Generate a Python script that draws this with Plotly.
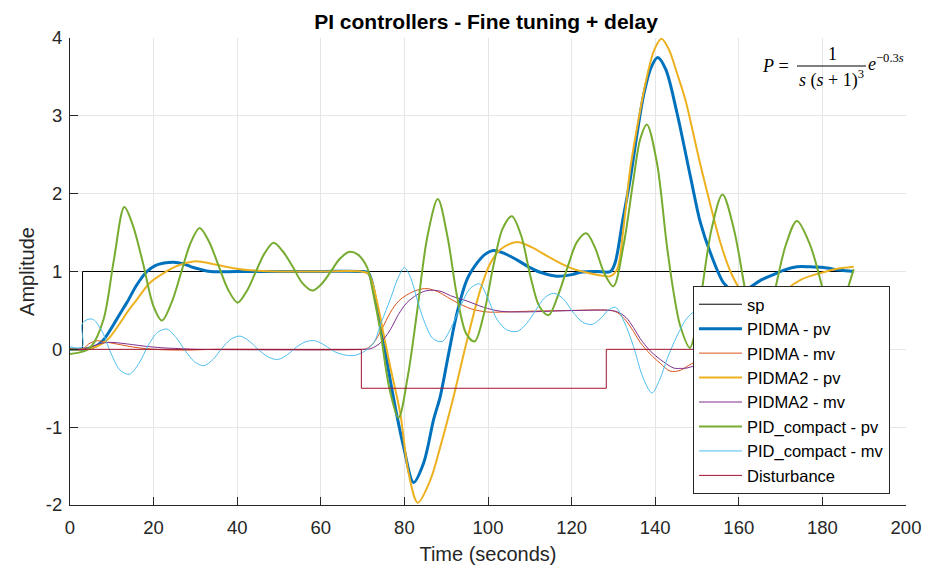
import plotly.graph_objects as go

# ---------------- data ----------------
t_sp = [0, 3, 3, 187.5]
sp = [0, 0, 1, 1]

t_pidma_pv = [0, 3, 5, 6.5, 8, 10, 12, 13.6, 16, 18.4, 20.5, 22.5, 24.8, 27, 29, 31, 33.6,
              40, 50, 60, 69.5, 71.4, 73.4, 75, 76.6, 78.2, 79.8, 82.2, 84.6, 87, 88.6,
              90.6, 92.6, 95, 97.4, 99.3, 101.3, 104, 106.9, 109.7, 112.5, 116.5, 120,
              122.1, 126, 129.3, 130.4, 132.2, 134, 135.6, 137.2, 139, 140.6, 142.5, 145.2,
              148.5, 150.8, 153.2, 156.4, 158.6, 160.4, 162.3, 165, 168.3, 171, 173.9, 177,
              180.3, 184, 187.5]
pidma_pv = [0, 0, 0.02, 0.05, 0.12, 0.28, 0.46, 0.6, 0.83, 1.0, 1.08, 1.11, 1.12, 1.1, 1.06, 1.03, 1.0,
            1.0, 1.0, 1.0, 1.0, 0.98, 0.55, 0.1, -0.39, -0.85, -1.25, -1.71, -1.46, -0.9, -0.6,
            -0.05, 0.47, 0.9, 1.11, 1.22, 1.27, 1.23, 1.15, 1.06, 0.99, 0.94, 0.96,
            0.99, 1.0, 1.0, 1.11, 1.65, 2.18, 2.75, 3.26, 3.62, 3.75, 3.6, 3.04,
            2.2, 1.63, 1.24, 0.85, 0.75, 0.72, 0.78, 0.88, 0.96, 1.02, 1.06, 1.06,
            1.05, 1.02, 1.0]

t_pidma_mv = [0, 3, 4.5, 6.5, 9, 12, 15, 18, 22, 28, 35, 70, 71, 72.6, 74.6, 76.6, 78.6, 80.6,
              83, 85.4, 88, 90.3, 92.6, 96, 99.8, 104, 110, 120, 129.3, 131, 133, 134.8,
              136.4, 138.8, 141.2, 143.6, 146, 147.9, 152, 157, 162, 170, 187.5]
pidma_mv = [0, 0, 0.07, 0.11, 0.09, 0.06, 0.03, 0.01, -0.005, -0.01, 0, 0, 0.01, 0.08, 0.26, 0.47, 0.62, 0.70,
            0.76, 0.78, 0.74, 0.67, 0.60, 0.52, 0.48, 0.48, 0.49, 0.50, 0.50, 0.47, 0.37, 0.23,
            0.09, -0.06, -0.18, -0.28, -0.27, -0.21, -0.1, -0.02, 0.01, 0.0, 0.0]

t_pidma2_pv = [0, 3, 6, 8.9, 11.5, 14, 16, 19, 22.4, 26, 29.6, 33, 36.5, 40.7, 45, 50, 60, 69.5,
               71.4, 73.5, 75, 76.6, 79, 81, 83.2, 86.2, 88.6, 91.8, 95, 98.2, 100.5, 102.9,
               106.9, 110.5, 114.1, 117.5, 120.5, 124, 127, 129.3, 130.9, 132.5, 134, 136,
               138, 139.8, 141.5, 143.3, 145.2, 147.2, 150.6, 153, 155.6, 158, 160, 162.5,
               165.5, 168.5, 171.5, 175, 179.5, 183, 187.5]
pidma2_pv = [0, 0, 0.03, 0.12, 0.3, 0.5, 0.64, 0.85, 0.98, 1.08, 1.13, 1.11, 1.07, 1.03, 1.01, 1.0, 1.0, 1.0,
             0.97, 0.6, 0.2, -0.22, -0.82, -1.59, -1.97, -1.68, -1.25, -0.6, 0.12, 0.77, 1.1, 1.28,
             1.38, 1.31, 1.2, 1.1, 1.03, 0.98, 0.95, 0.94, 1.03, 1.6, 2.31, 2.95,
             3.5, 3.85, 3.99, 3.85, 3.55, 3.21, 2.42, 1.9, 1.37, 1.0, 0.79, 0.58,
             0.48, 0.58, 0.77, 0.9, 0.98, 1.03, 1.06]

t_pidma2_mv = [0, 3, 5, 7, 9.6, 12, 15, 18, 22, 26, 30, 70, 72, 74.2, 76.6, 78.6, 80.6, 83, 85, 87,
               89, 91, 95, 99, 102.9, 108, 115, 122, 129.3, 131, 133, 134.8, 136.4, 138.8,
               141.2, 144.4, 146, 147.6, 152, 157, 162, 170, 187.5]
pidma2_mv = [0, 0, 0.03, 0.07, 0.09, 0.08, 0.06, 0.04, 0.02, 0.01, 0, 0, 0.01, 0.08, 0.25, 0.45, 0.6, 0.7, 0.75, 0.76,
             0.74, 0.69, 0.62, 0.54, 0.49, 0.48, 0.49, 0.5, 0.5, 0.48, 0.41, 0.28, 0.14, -0.02,
             -0.13, -0.24, -0.245, -0.24, -0.16, -0.07, -0.02, 0.0, 0.0]

t_pidc_pv = [0, 3, 5, 8, 10.5, 13, 15, 17.5, 20, 22, 24.3, 26.5, 28.8, 31, 33.3, 35.5, 37.8, 40.1,
             42.3, 44.4, 46.5, 48.7, 50.9, 53.3, 55.6, 58, 60.2, 62.4, 64.5, 66.7, 68.8, 71.1,
             72.6, 74.2, 76.4, 78.6, 80.8, 83, 85.5, 88, 90.3, 92.6, 94.8, 96.8, 99, 101.2,
             103.5, 105.7, 108, 110.1, 112.3, 114.5, 116.8, 119, 121.3, 123.5, 125.5, 127.8,
             130, 132.4, 134.8, 136.4, 138, 140.4, 142.8, 144.5, 146, 148.3, 150, 151.2, 153.5,
             156.1, 158.8, 161.5, 163.3, 165.1, 166.9, 168.7, 171.3, 173.9, 177, 180.1, 181.6,
             183, 184.5, 186, 187.5]
pidc_pv = [-0.06, -0.03, 0.03, 0.38, 1.15, 1.83, 1.6, 1.1, 0.55, 0.37, 0.6, 0.97, 1.36, 1.56, 1.38, 1.08, 0.77, 0.60,
           0.75, 0.99, 1.23, 1.37, 1.26, 1.06, 0.85, 0.755, 0.84, 1.0, 1.16, 1.25, 1.22, 1.05,
           0.7, 0.25, -0.5, -0.88, -0.35, 0.47, 1.45, 1.93, 1.45, 0.68, 0.2, 0.10, 0.45, 1.05,
           1.55, 1.71, 1.45, 0.95, 0.55, 0.44, 0.7, 1.05, 1.38, 1.49, 1.32, 0.98,
           0.81, 1.33, 2.18, 2.7, 2.89, 2.4, 1.33, 0.7, 0.3, 0.02, 0.35, 0.77, 1.55,
           1.99, 1.55, 0.77, 0.3, 0.12, 0.35, 0.77, 1.35, 1.65, 1.35, 0.77, 0.45,
           0.35, 0.5, 0.77, 1.03]

t_pidc_mv = [0, 2.9, 3.0, 5.3, 7.5, 9.8, 12, 14.2, 16.5, 18.7, 21, 23.2, 25.4, 27.6, 29.8, 32,
             34.2, 36.3, 38.5, 40.7, 43, 45.2, 47.5, 49.7, 52, 54.2, 56.5, 58.7, 61, 63.3, 65.5,
             67.8, 70, 72.6, 74.5, 76.6, 78.5, 80, 81.5, 83, 84.6, 86.8, 89, 91.2, 93.4, 95.7,
             98, 100, 102.2, 104.5, 107, 109.2, 111.4, 113.5, 115.7, 118, 120.3, 122.6, 124.9,
             127, 128.7, 130.5, 132.6, 134.8, 137, 139.2, 141, 142.8, 145.2, 147.6, 149.5,
             151.5, 154, 157, 159.5, 162, 165, 168, 171, 174, 177, 180, 183, 187.5]
pidc_mv = [0.03, 0.03, 0.34, 0.39, 0.25, -0.05, -0.27, -0.32, -0.18, 0.05, 0.22, 0.26, 0.15, -0.02, -0.16, -0.21,
           -0.13, 0.01, 0.13, 0.17, 0.1, -0.01, -0.1, -0.13, -0.07, 0.03, 0.1, 0.11, 0.05, -0.03, -0.07,
           -0.08, -0.04, 0.08, 0.35, 0.64, 0.92, 1.05, 0.92, 0.65, 0.38, 0.14, 0.10, 0.28, 0.55, 0.78,
           0.84, 0.65, 0.38, 0.25, 0.23, 0.33, 0.5, 0.66, 0.72, 0.65, 0.48, 0.35, 0.32,
           0.4, 0.5, 0.54, 0.35, 0.04, -0.35, -0.56, -0.4, -0.13, 0.17, 0.40, 0.48,
           0.35, 0.0, -0.32, -0.22, 0.05, 0.22, 0.12, -0.1, -0.14, 0.0, 0.08, 0.03, 0.0]

t_dist = [0, 69.7, 69.7, 128.3, 128.3, 187.5]
dist = [0, 0, -0.5, -0.5, 0, 0]

x_ticks = [0, 20, 40, 60, 80, 100, 120, 140, 160, 180, 200]
y_ticks = [-2, -1, 0, 1, 2, 3, 4]

# stray "0" tick label of a hidden second axis (far left edge of the reference)
stray_label = "0"
stray_x, stray_y = -17.2, -2.27

# ---------------- figure ----------------
FONT = "Liberation Sans, Arial, Helvetica, sans-serif"
SERIF = "Liberation Serif, Times New Roman, serif"
AX = "#262626"

fig = go.Figure()

def add(t, y, name, color, width, shape="spline"):
    fig.add_trace(go.Scatter(x=t, y=y, name=name, mode="lines",
                             line=dict(color=color, width=width, shape=shape,
                                       smoothing=0.9 if shape == "spline" else None)))

add(t_sp, sp, "sp", "#000000", 1, "linear")
add(t_pidma_pv, pidma_pv, "PIDMA - pv", "#0072BD", 3)
add(t_pidma_mv, pidma_mv, "PIDMA - mv", "#D95319", 1)
add(t_pidma2_pv, pidma2_pv, "PIDMA2 - pv", "#EDB120", 2)
add(t_pidma2_mv, pidma2_mv, "PIDMA2 - mv", "#7E2F8E", 1)
add(t_pidc_pv, pidc_pv, "PID_compact - pv", "#77AC30", 2)
add(t_pidc_mv, pidc_mv, "PID_compact - mv", "#4DBEEE", 1)
add(t_dist, dist, "Disturbance", "#A2142F", 1, "linear")

fig.add_trace(go.Scatter(x=[stray_x], y=[stray_y], mode="text", text=[stray_label],
                         textposition="middle center", cliponaxis=False, showlegend=False,
                         hoverinfo="skip",
                         textfont=dict(family=FONT, size=18.5, color=AX)))

L, R, T, B = 70, 22, 38, 62
W, H = 928, 567
PW, PH = W - L - R, H - T - B

def px(x):
    return (x - L) / PW

def py(y):
    return (H - B - y) / PH

fig.update_layout(
    width=W, height=H,
    margin=dict(l=L, r=R, t=T, b=B, pad=0, autoexpand=False),
    paper_bgcolor="white", plot_bgcolor="white",
    font=dict(family=FONT, color=AX, size=18.5),
    title=dict(text="<b>PI controllers - Fine tuning + delay</b>",
               x=px(486), xref="paper", xanchor="center",
               y=1 - 22 / H, yref="container", yanchor="middle",
               font=dict(family=FONT, size=21, color="#000000")),
    showlegend=True,
    legend=dict(x=px(890), y=py(286), xanchor="right", yanchor="top",
                bgcolor="white", bordercolor=AX, borderwidth=1,
                font=dict(family=FONT, size=16.5, color="#000000"),
                itemwidth=43, tracegroupgap=0),
)

fig.update_xaxes(range=[0, 200], tickvals=x_ticks, ticktext=[str(v) for v in x_ticks],
                 showgrid=True, gridcolor="#e6e6e6", gridwidth=1, zeroline=False,
                 showline=True, linecolor=AX, linewidth=1, mirror=False,
                 ticks="inside", ticklen=8, tickcolor=AX, ticklabelstandoff=6,
                 tickfont=dict(family=FONT, size=18.5, color=AX),
                 title=dict(text="Time (seconds)", standoff=9,
                            font=dict(family=FONT, size=20, color=AX)))
fig.update_yaxes(range=[-2, 4], tickvals=y_ticks, ticktext=[str(v) for v in y_ticks],
                 showgrid=True, gridcolor="#e6e6e6", gridwidth=1, zeroline=False,
                 showline=True, linecolor=AX, linewidth=1, mirror=False,
                 ticks="inside", ticklen=8, tickcolor=AX, ticklabelstandoff=3,
                 tickfont=dict(family=FONT, size=18.5, color=AX),
                 title=dict(text="Amplitude", standoff=5,
                            font=dict(family=FONT, size=20, color=AX)))

# plant transfer function: P = 1 / (s (s+1)^3) e^{-0.3s}
ff = dict(family=SERIF, size=18, color="#000000")
fig.add_annotation(text="<i>P</i> =", x=px(775), y=py(66), xref="paper", yref="paper",
                   xanchor="center", yanchor="middle", showarrow=False, font=ff)
fig.add_annotation(text="1", x=px(832), y=py(54), xref="paper", yref="paper",
                   xanchor="center", yanchor="middle", showarrow=False, font=ff)
fig.add_annotation(text="<i>s</i> (<i>s</i> + 1)<sup>3</sup>", x=px(831), y=py(79),
                   xref="paper", yref="paper", xanchor="center", yanchor="middle",
                   showarrow=False, font=ff)
fig.add_annotation(text="<i>e</i><sup>\u22120.3<i>s</i></sup>", x=px(866), y=py(62),
                   xref="paper", yref="paper", xanchor="left", yanchor="middle",
                   showarrow=False, font=ff)
fig.add_shape(type="line", xref="paper", yref="paper", x0=px(797), x1=px(866),
              y0=py(66), y1=py(66), line=dict(color="#000000", width=1))

# the page is photographed from its top-left corner: drop the browser's default body margin
fig.write_html("out.html", config={"displayModeBar": False},
               post_script="document.body.style.margin='0px';")
